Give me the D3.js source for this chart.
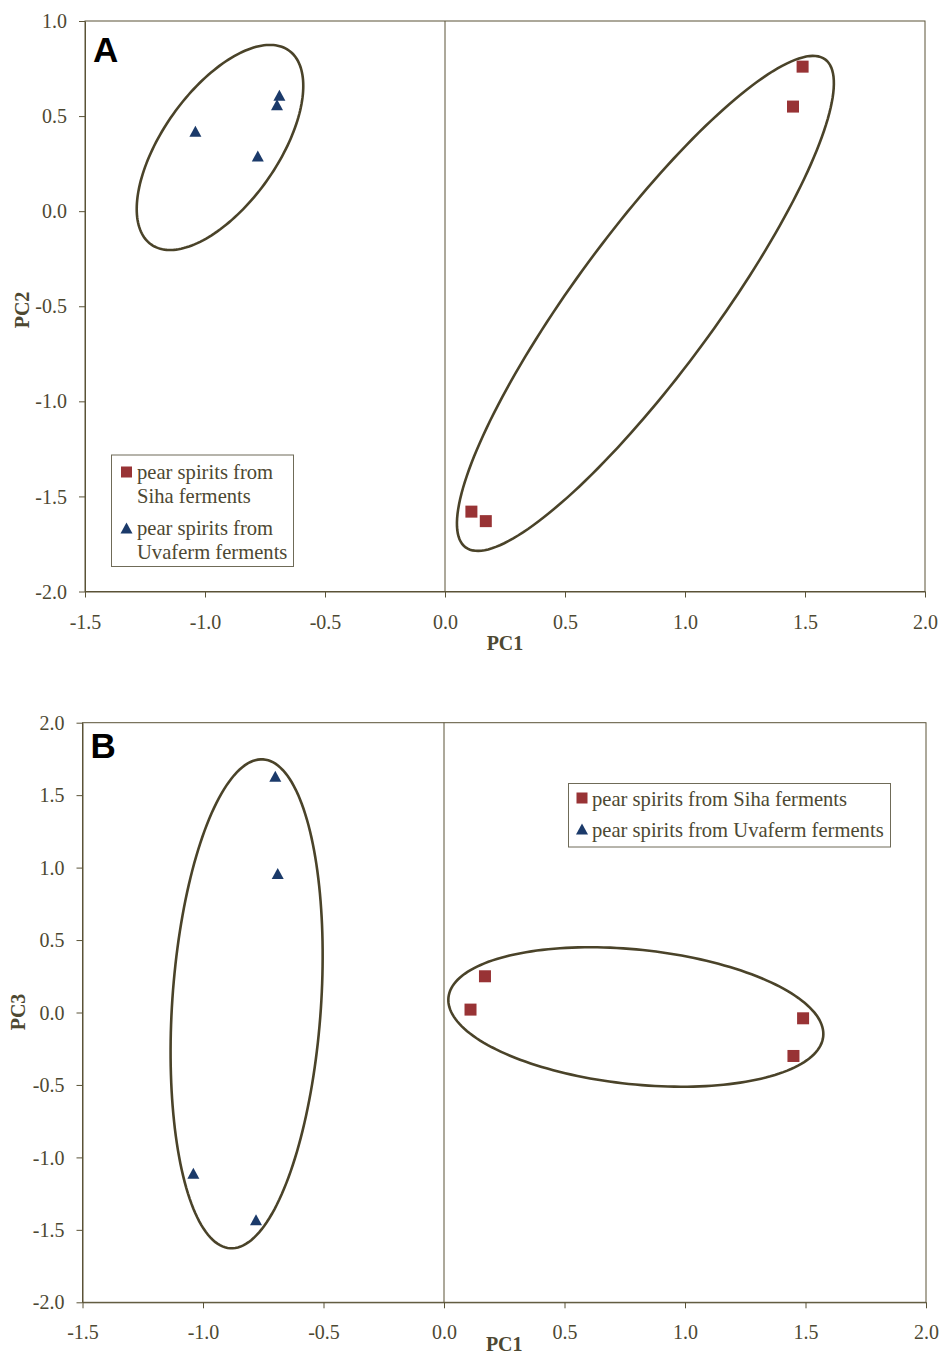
<!DOCTYPE html>
<html>
<head>
<meta charset="utf-8">
<script src="https://cdn.jsdelivr.net/npm/d3@7"></script>
<style>
  body { margin: 0; background: #fff; }
  svg { display: block; }
</style>
</head>
<body>
<svg id="chart" width="943" height="1354"></svg>
<script>
// PCA scores of the pear spirits (PC1, PC2, PC3) by ferment used
const pc1Siha = [0.11, 0.17, 1.49, 1.45];
const pc2Siha = [-1.58, -1.63, 0.76, 0.55];
const pc3Siha = [0.02, 0.25, -0.04, -0.30];

const pc1Uvaferm = [-1.04, -0.78, -0.69, -0.70];
const pc2Uvaferm = [0.42, 0.29, 0.61, 0.56];
const pc3Uvaferm = [-1.11, -1.43, 0.96, 1.63];

const seriesNames = ["pear spirits from Siha ferments", "pear spirits from Uvaferm ferments"];

// Axis ticks
const pc1Ticks = [-1.5, -1.0, -0.5, 0.0, 0.5, 1.0, 1.5, 2.0];
const pc2Ticks = [-2.0, -1.5, -1.0, -0.5, 0.0, 0.5, 1.0];
const pc3Ticks = [-2.0, -1.5, -1.0, -0.5, 0.0, 0.5, 1.0, 1.5, 2.0];

// Group outlines: centre plus two conjugate half-axis vectors, in score units
const groupsPC2 = [
  { cx: -0.9375, cy: 0.335, ux: 0.287, uy: 0.510, vx: -0.195, vy: 0.175 },
  { cx: 0.835, cy: -0.485, ux: 0.749, uy: 1.283, vx: -0.236, vy: 0.219 }
];
const groupsPC3 = [
  { cx: -0.819, cy: 0.060, ux: 0.0685, uy: 1.687, vx: -0.308, vy: 0.0346 },
  { cx: 0.796, cy: -0.031, ux: 0.7775, uy: -0.1348, vx: 0.029, vy: 0.462 }
];

const svg = d3.select("#chart");
const AXIS = "#5a5337";
const TEXT = "#4d4832";
const RING = "#4a4329";
const SIHA = "#983335";
const UVA = "#1b3a6a";
const SERIF = "'Liberation Serif', 'Times New Roman', serif";
const fmt = d => d.toFixed(1);

function trianglePath(w, h) {
  return `M0,${-h / 2}L${w / 2},${h / 2}L${-w / 2},${h / 2}Z`;
}

function drawPanel(cfg) {
  const g = svg.append("g");
  const x = d3.scaleLinear().domain([-1.5, 2.0]).range([cfg.left, cfg.right]);
  const y = d3.scaleLinear().domain(cfg.yDomain).range([cfg.bottom, cfg.top]);

  // plot frame
  g.append("rect")
    .attr("x", cfg.left).attr("y", cfg.top)
    .attr("width", cfg.right - cfg.left).attr("height", cfg.bottom - cfg.top)
    .attr("fill", "none").attr("stroke", AXIS).attr("stroke-width", 1);

  // vertical zero line
  g.append("line")
    .attr("x1", x(0)).attr("x2", x(0))
    .attr("y1", cfg.top).attr("y2", cfg.bottom)
    .attr("stroke", AXIS).attr("stroke-width", 1);

  // y axis
  const yAxis = g.append("g")
    .attr("transform", `translate(${cfg.left},0)`)
    .call(d3.axisLeft(y).tickValues(cfg.yTicks).tickSize(6).tickSizeOuter(0)
      .tickPadding(12).tickFormat(fmt));
  yAxis.select(".domain").attr("stroke", AXIS);
  yAxis.selectAll(".tick line").attr("stroke", AXIS);
  yAxis.selectAll(".tick text")
    .attr("fill", TEXT).attr("font-family", SERIF).attr("font-size", 20)
    .attr("dy", "0.33em");

  // x axis
  const xAxis = g.append("g")
    .attr("transform", `translate(0,${cfg.bottom})`)
    .call(d3.axisBottom(x).tickValues(pc1Ticks).tickSize(6).tickSizeOuter(0)
      .tickPadding(17).tickFormat(fmt));
  xAxis.select(".domain").attr("stroke", AXIS);
  xAxis.selectAll(".tick line").attr("stroke", AXIS);
  xAxis.selectAll(".tick text")
    .attr("fill", TEXT).attr("font-family", SERIF).attr("font-size", 20);

  // axis titles
  g.append("text")
    .attr("x", (cfg.left + cfg.right) / 2).attr("y", cfg.bottom + cfg.xTitleOffset)
    .attr("text-anchor", "middle").attr("fill", TEXT)
    .attr("font-family", SERIF).attr("font-size", 20).attr("font-weight", "bold")
    .text("PC1");
  g.append("text")
    .attr("transform", `translate(${cfg.yTitleX},${cfg.yTitleY}) rotate(-90)`)
    .attr("text-anchor", "middle").attr("fill", TEXT)
    .attr("font-family", SERIF).attr("font-size", 20).attr("font-weight", "bold")
    .text(cfg.yTitle);

  // panel letter
  g.append("text")
    .attr("x", cfg.left + 8).attr("y", cfg.top + cfg.letterOffset)
    .attr("font-family", "'Liberation Sans', Arial, sans-serif")
    .attr("font-size", 35).attr("font-weight", "bold").attr("fill", "#000")
    .text(cfg.letter);

  // group outlines
  const ring = d3.line().curve(d3.curveLinearClosed);
  cfg.groups.forEach(e => {
    const pts = d3.range(0, 180).map(i => {
      const t = i / 180 * 2 * Math.PI;
      return [x(e.cx + e.ux * Math.cos(t) + e.vx * Math.sin(t)),
              y(e.cy + e.uy * Math.cos(t) + e.vy * Math.sin(t))];
    });
    g.append("path").attr("d", ring(pts))
      .attr("fill", "none").attr("stroke", RING).attr("stroke-width", 2.6);
  });

  // Siha points (squares)
  const siha = pc1Siha.map((v, i) => [v, cfg.sihaY[i]]);
  g.selectAll(".siha").data(siha).enter().append("rect")
    .attr("x", d => x(d[0]) - 6).attr("y", d => y(d[1]) - 6)
    .attr("width", 12).attr("height", 12).attr("fill", SIHA);

  // Uvaferm points (triangles)
  const uva = pc1Uvaferm.map((v, i) => [v, cfg.uvaY[i]]);
  g.selectAll(".uva").data(uva).enter().append("path")
    .attr("d", trianglePath(12, 11))
    .attr("transform", d => `translate(${x(d[0])},${y(d[1])})`)
    .attr("fill", UVA);

  // legend
  const L = cfg.legend;
  const lg = g.append("g");
  lg.append("rect").attr("x", L.x).attr("y", L.y).attr("width", L.w).attr("height", L.h)
    .attr("fill", "#fff").attr("stroke", "#6f6b58").attr("stroke-width", 1);
  L.items.forEach((it, k) => {
    if (k === 0) {
      lg.append("rect").attr("x", L.markerX - 5.5).attr("y", it.my - 5.5)
        .attr("width", 11).attr("height", 11).attr("fill", SIHA);
    } else {
      lg.append("path").attr("d", trianglePath(12, 11))
        .attr("transform", `translate(${L.markerX},${it.my})`).attr("fill", UVA);
    }
    it.lines.forEach((line, j) => {
      lg.append("text").attr("x", L.textX).attr("y", it.baselines[j])
        .attr("fill", TEXT).attr("font-family", SERIF).attr("font-size", 20.6)
        .text(line);
    });
  });
}

drawPanel({
  letter: "A", yTitle: "PC2", letterOffset: 41,
  left: 85, right: 925, top: 21, bottom: 591.5,
  yDomain: [-2.0, 1.0], yTicks: pc2Ticks,
  xTitleOffset: 58, yTitleX: 29, yTitleY: 310,
  groups: groupsPC2,
  sihaY: pc2Siha, uvaY: pc2Uvaferm,
  legend: {
    x: 111.5, y: 455, w: 182, h: 111.5, markerX: 126.5, textX: 137,
    items: [
      { my: 472, lines: ["pear spirits from", "Siha ferments"], baselines: [479, 503] },
      { my: 528, lines: ["pear spirits from", "Uvaferm ferments"], baselines: [535, 559] }
    ]
  }
});

drawPanel({
  letter: "B", yTitle: "PC3", letterOffset: 35,
  left: 82.5, right: 926, top: 722.7, bottom: 1302.3,
  yDomain: [-2.0, 2.0], yTicks: pc3Ticks,
  xTitleOffset: 49, yTitleX: 25, yTitleY: 1012,
  groups: groupsPC3,
  sihaY: pc3Siha, uvaY: pc3Uvaferm,
  legend: {
    x: 568.5, y: 783.5, w: 322, h: 63.5, markerX: 582, textX: 592,
    items: [
      { my: 798, lines: [seriesNames[0]], baselines: [806] },
      { my: 829, lines: [seriesNames[1]], baselines: [837] }
    ]
  }
});
</script>
</body>
</html>
